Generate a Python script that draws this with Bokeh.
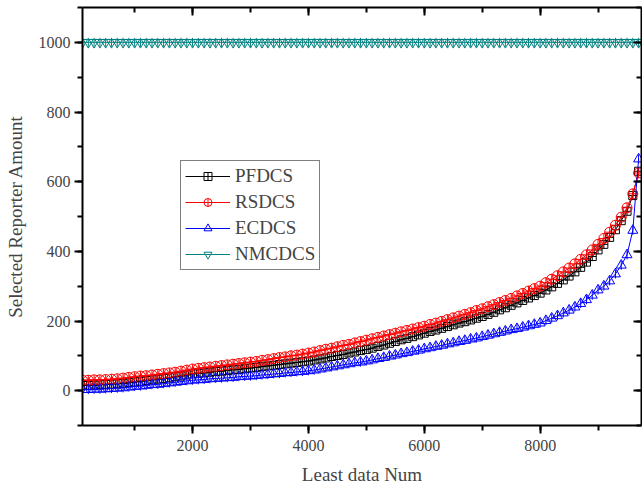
import numpy as np
from bokeh.plotting import figure
from bokeh.models import (Range1d, LinearAxis, SingleIntervalTicker, Legend, LegendItem,
                          CustomLabelingPolicy)
from bokeh.embed import file_html
from bokeh.resources import INLINE

x_vals = list(range(100, 9800, 100))

pfdcs = [15, 15, 16, 17, 18, 19, 20, 21, 23, 25,
         27, 29, 31, 33, 35, 37, 40, 42, 45, 48,
         50, 51, 53, 55, 56, 58, 60, 61, 63, 65,
         67, 69, 71, 73, 75, 77, 79, 81, 83, 85,
         88, 91, 94, 98, 101, 104, 108, 111, 115, 118,
         122, 127, 131, 136, 141, 146, 150, 155, 160, 165,
         170, 174, 179, 184, 189, 194, 198, 203, 208, 213,
         219, 225, 232, 238, 245, 252, 259, 266, 273, 280,
         289, 298, 308, 318, 329, 341, 354, 369, 385, 404,
         420, 440, 462, 488, 515, 560, 630]

rsdcs = [30, 30, 31, 31, 32, 33, 34, 36, 38, 40,
         42, 43, 45, 47, 49, 51, 53, 56, 59, 62,
         64, 66, 68, 70, 72, 74, 76, 78, 80, 82,
         84, 87, 89, 92, 95, 97, 100, 102, 105, 108,
         111, 115, 119, 122, 126, 130, 133, 137, 141, 145,
         149, 153, 157, 161, 165, 169, 173, 177, 181, 185,
         190, 194, 199, 204, 209, 214, 219, 224, 230, 235,
         241, 247, 253, 259, 265, 272, 279, 286, 293, 300,
         310, 320, 330, 341, 352, 364, 377, 390, 404, 420,
         437, 455, 475, 498, 525, 565, 625]

ecdcs = [3, 3, 4, 4, 5, 6, 7, 8, 10, 12,
         13, 15, 17, 18, 20, 22, 24, 26, 28, 30,
         31, 32, 34, 35, 36, 37, 38, 40, 41, 42,
         43, 45, 46, 48, 49, 51, 52, 54, 55, 57,
         59, 62, 65, 68, 71, 74, 77, 80, 82, 85,
         88, 92, 95, 99, 102, 106, 109, 113, 116, 120,
         123, 127, 130, 134, 137, 141, 144, 148, 151, 155,
         159, 163, 167, 171, 175, 178, 182, 186, 190, 194,
         201, 208, 215, 223, 231, 240, 250, 261, 274, 289,
         300, 315, 335, 360, 390, 460, 665]

nmcdcs = [1000] * 97

x_ticks_interval = 2000
y_ticks_interval = 200

FONT = "'Liberation Serif', 'Times New Roman', serif"

p = figure(width=642, height=487, output_backend="svg", toolbar_location=None,
           x_range=Range1d(100, 9750), y_range=Range1d(-100, 1100),
           min_border_left=82, min_border_right=1, min_border_top=7, min_border_bottom=10,
           x_axis_label="Least data Num", y_axis_label="Selected Reporter Amount")
p.grid.visible = False
p.outline_line_color = None
p.background_fill_color = "white"

p.xaxis.ticker = SingleIntervalTicker(interval=x_ticks_interval, num_minor_ticks=2)
p.yaxis.ticker = SingleIntervalTicker(interval=y_ticks_interval, num_minor_ticks=2)
for ax in [p.xaxis[0], p.yaxis[0]]:
    ax.axis_line_width = 2
    ax.major_tick_line_width = 2
    ax.minor_tick_line_width = 2
    ax.major_tick_out = 8
    ax.major_tick_in = 0
    ax.minor_tick_out = 5
    ax.minor_tick_in = 0
    ax.major_label_text_font = FONT
    ax.major_label_text_font_size = "16px"
    ax.axis_label_text_font = FONT
    ax.axis_label_text_font_size = "19px"
    ax.axis_label_text_font_style = "normal"
p.xaxis.major_label_standoff = 6
p.xaxis.axis_label_standoff = 10
p.yaxis.major_label_standoff = 4
p.yaxis.axis_label_standoff = 10

top = LinearAxis(ticker=SingleIntervalTicker(interval=x_ticks_interval, num_minor_ticks=2),
                 major_label_policy=CustomLabelingPolicy(code="return new Set()"))
right = LinearAxis(ticker=SingleIntervalTicker(interval=y_ticks_interval, num_minor_ticks=2),
                   major_label_policy=CustomLabelingPolicy(code="return new Set()"))
for ax in [top, right]:
    ax.axis_line_width = 2
    ax.major_tick_line_width = 2
    ax.minor_tick_line_width = 2
    ax.major_tick_out = 0
    ax.major_tick_in = 8
    ax.minor_tick_out = 0
    ax.minor_tick_in = 5
    ax.major_label_standoff = 0
    ax.major_label_text_font_size = "0px"
p.add_layout(top, "above")
p.add_layout(right, "right")

items = []
# PFDCS
l1 = p.line(x_vals, pfdcs, line_color="black", line_width=1)
m1 = p.scatter(x_vals, pfdcs, marker="square_cross", size=8, line_color="black",
               fill_color=None, line_width=1)
items.append(LegendItem(label="PFDCS", renderers=[l1, m1]))
# RSDCS
l2 = p.line(x_vals, rsdcs, line_color="#ff0000", line_width=1)
m2 = p.scatter(x_vals, rsdcs, marker="circle_cross", size=10, line_color="#ff0000",
               fill_color=None, line_width=1)
items.append(LegendItem(label="RSDCS", renderers=[l2, m2]))
# ECDCS
l3 = p.line(x_vals, ecdcs, line_color="#0000ff", line_width=1)
m3 = p.scatter(x_vals, ecdcs, marker="triangle", size=10, line_color="#0000ff",
               fill_color=None, line_width=1)
m3b = p.scatter(x_vals, ecdcs, marker="dash", angle=np.pi / 2, size=9, line_color="#0000ff",
                line_width=1)
items.append(LegendItem(label="ECDCS", renderers=[l3, m3, m3b]))
# NMCDCS
l4 = p.line(x_vals, nmcdcs, line_color="#008080", line_width=1)
m4 = p.scatter(x_vals, nmcdcs, marker="inverted_triangle", size=10, line_color="#008080",
               fill_color=None, line_width=1)
m4b = p.scatter(x_vals, nmcdcs, marker="dash", angle=np.pi / 2, size=9, line_color="#008080",
                line_width=1)
items.append(LegendItem(label="NMCDCS", renderers=[l4, m4, m4b]))

legend = Legend(items=items, location=(98, 155))
legend.label_text_font = FONT
legend.label_text_font_size = "19px"
legend.label_height = 20
legend.glyph_height = 20
legend.glyph_width = 45
legend.spacing = 4
legend.padding = 4
legend.margin = 0
legend.label_standoff = 5
legend.border_line_color = "black"
legend.border_line_width = 1
legend.background_fill_alpha = 1
p.add_layout(legend, "center")

open("out.html", "w").write(file_html(p, INLINE))
